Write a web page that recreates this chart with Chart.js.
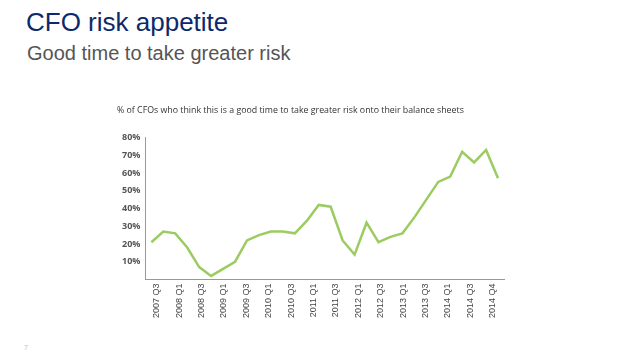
<!DOCTYPE html>
<html>
<head>
<meta charset="utf-8">
<script src="https://cdn.jsdelivr.net/npm/chart.js@4.4.1/dist/chart.umd.min.js"></script>
<style>
    body { margin: 0; width: 638px; height: 359px; background: #fff; position: relative; overflow: hidden; font-family: "Liberation Sans", Arial, sans-serif; }
    #title { position: absolute; left: 26px; top: 7px; font-size: 26px; color: #0c2a6b; }
    #subtitle { position: absolute; left: 27px; top: 42px; font-size: 20px; color: #555; }
    #pageNo { position: absolute; left: 24px; top: 344px; font-size: 7px; color: #bbb; }
    #chartBox { position: absolute; left: 110px; top: 98px; width: 402px; height: 224px; }
</style>
</head>
<body>
<div id="title">CFO risk appetite</div>
<div id="subtitle">Good time to take greater risk</div>
<div id="pageNo">7</div>
<div id="chartBox"><canvas id="riskChart"></canvas></div>

<script>
// quarters 2007 Q3 .. 2014 Q4
const quarters = ['2007 Q3', '2007 Q4',
    '2008 Q1', '2008 Q2', '2008 Q3', '2008 Q4',
    '2009 Q1', '2009 Q2', '2009 Q3', '2009 Q4',
    '2010 Q1', '2010 Q2', '2010 Q3', '2010 Q4',
    '2011 Q1', '2011 Q2', '2011 Q3', '2011 Q4',
    '2012 Q1', '2012 Q2', '2012 Q3', '2012 Q4',
    '2013 Q1', '2013 Q2', '2013 Q3', '2013 Q4',
    '2014 Q1', '2014 Q2', '2014 Q3', '2014 Q4'];

// % of CFOs
const riskAppetite = [21, 27, 26, 18, 7, 2, 6, 10, 22, 25,
    27, 27, 26, 33, 42, 41, 22, 14, 32, 21,
    24, 26, 35, 45, 55, 58, 72, 66, 73, 57];

// labels printed under the axis
const tickLabels = ['2007 Q3', '2008 Q1', '2008 Q3', '2009 Q1', '2009 Q3', '2010 Q1',
    '2010 Q3', '2011 Q1', '2011 Q3', '2012 Q1', '2012 Q3', '2013 Q1',
    '2013 Q3', '2014 Q1', '2014 Q3', '2014 Q4'];

const yTicks = [10, 20, 30, 40, 50, 60, 70, 80];

document.addEventListener('DOMContentLoaded', function () {
    const ctx = document.getElementById('riskChart').getContext('2d');
    const riskChart = new Chart(ctx, {
        type: 'line',
        data: {
            labels: quarters,
            datasets: [{
                label: 'Good time to take greater risk',
                data: riskAppetite,
                borderColor: '#9ccb62',
                borderWidth: 2.5,
                pointRadius: 0,
                tension: 0,
                xAxisID: 'x'
            }]
        },
        options: {
            responsive: true,
            maintainAspectRatio: false,
            animation: false,
            layout: { padding: { left: 7, right: 8, top: 0, bottom: 0 } },
            plugins: {
                legend: { display: false },
                tooltip: { enabled: false },
                title: {
                    display: true,
                    align: 'start',
                    text: '% of CFOs who think this is a good time to take greater risk onto their balance sheets',
                    color: '#333',
                    font: { family: 'Open Sans', size: 8.8, weight: 'normal' },
                    padding: { top: 7, bottom: 22 }
                }
            },
            scales: {
                x: {
                    type: 'category',
                    offset: true,
                    display: false
                },
                xt: {
                    type: 'category',
                    labels: tickLabels,
                    position: 'bottom',
                    offset: true,
                    grid: { display: false, drawTicks: false },
                    border: { display: true, color: '#999', width: 1 },
                    ticks: {
                        color: '#444',
                        font: { family: 'Liberation Sans', size: 9 },
                        minRotation: 90,
                        maxRotation: 90,
                        autoSkip: false,
                        padding: 4
                    }
                },
                y: {
                    min: 0,
                    max: 80,
                    afterBuildTicks: function (scale) {
                        scale.ticks = [{ value: 0 }].concat(yTicks.map(v => ({ value: v })));
                    },
                    grid: { display: false, drawTicks: false },
                    border: { display: true, color: '#999', width: 1 },
                    ticks: {
                        color: '#555',
                        font: { family: 'Open Sans', size: 9, weight: 'bold' },
                        padding: 5,
                        callback: function (value) {
                            return value === 0 ? '' : value + '%';
                        }
                    }
                }
            }
        }
    });
});
</script>
</body>
</html>
